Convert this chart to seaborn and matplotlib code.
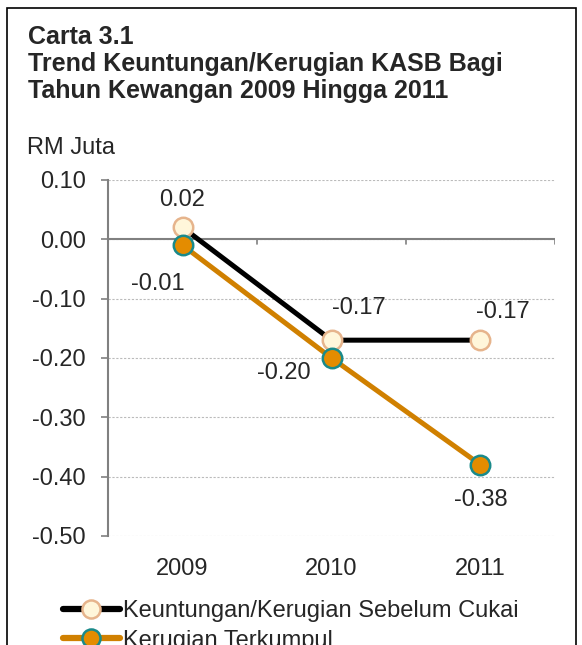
"""
Carta 3.1 - Trend Keuntungan/Kerugian KASB 2009-2011
"""

import pandas as pd
import matplotlib
matplotlib.use("Agg")
import matplotlib.pyplot as plt
from matplotlib.lines import Line2D
from matplotlib.patches import Rectangle
import seaborn as sns

# Data
years = ["2009", "2010", "2011"]
untung_rugi = [0.02, -0.17, -0.17]
rugi_terkumpul = [-0.01, -0.20, -0.38]
series_names = ["Keuntungan/Kerugian Sebelum Cukai", "Kerugian Terkumpul"]
y_ticks = [0.10, 0.00, -0.10, -0.20, -0.30, -0.40, -0.50]

# label offsets in points (dx, dy)
offsets_a = [(0, 20), (20, 23), (16, 20)]
offsets_b = [(-18, -28), (-34, -11), (0, -25)]

FS = 17

df = pd.DataFrame({
    "tahun": years * 2,
    "nilai": untung_rugi + rugi_terkumpul,
    "siri": [series_names[0]] * 3 + [series_names[1]] * 3,
})

sns.set_style("white")
plt.rcParams["font.family"] = ["Liberation Sans", "DejaVu Sans"]

fig = plt.figure(figsize=(5.82, 6.45), dpi=100)
ax = fig.add_axes([0.1856, 0.169, 0.768, 0.552])

styles = {
    series_names[0]: dict(color="black", mfc="#FFF6DA", mec="#E6B48C"),
    series_names[1]: dict(color="#D08000", mfc="#E48C00", mec="#1A8A8A"),
}

for name in series_names:
    st = styles[name]
    sns.lineplot(data=df[df["siri"] == name], x="tahun", y="nilai", ax=ax,
                 color=st["color"], linewidth=3.6, marker="o", markersize=14,
                 markerfacecolor=st["mfc"], markeredgecolor=st["mec"],
                 markeredgewidth=1.8, zorder=3)

# Data labels
for i, v in enumerate(untung_rugi):
    ax.annotate(f"{v:.2f}", (i, v), xytext=offsets_a[i], textcoords="offset points",
                ha="center", va="center", fontsize=FS)
for i, v in enumerate(rugi_terkumpul):
    ax.annotate(f"{v:.2f}", (i, v), xytext=offsets_b[i], textcoords="offset points",
                ha="center", va="center", fontsize=FS)

# Axes styling
ax.set_xlim(-0.5, 2.5)
ax.set_ylim(-0.50, 0.10)
ax.set_yticks(y_ticks)
ax.set_yticklabels([f"{t:.2f}" for t in y_ticks], fontsize=FS)
ax.set_xticks(range(len(years)))
ax.set_xticklabels(years, fontsize=FS)
ax.tick_params(axis="x", length=0, pad=16)
ax.tick_params(axis="y", length=5, width=1.2, color="#808080", pad=11, left=True)
ax.set_xlabel("")
ax.set_ylabel("")

for t in y_ticks:
    ax.axhline(t, color="#BBBBBB", linewidth=0.8, linestyle=(0, (2, 1.5)), zorder=0)
ax.axhline(0, color="#808080", linewidth=1.5, zorder=1)
for b in [0.5, 1.5, 2.5]:
    ax.plot([b, b], [0, -0.008], color="#808080", linewidth=1.2, zorder=1)

for s in ["top", "right", "bottom"]:
    ax.spines[s].set_visible(False)
ax.spines["left"].set_color("#808080")
ax.spines["left"].set_linewidth(1.5)

# Title
fig.text(0.048, 0.961, "Carta 3.1\nTrend Keuntungan/Kerugian KASB Bagi\nTahun Kewangan 2009 Hingga 2011",
         fontsize=18, fontweight="bold", va="top", ha="left", linespacing=1.165)
fig.text(0.046, 0.771, "RM Juta", fontsize=FS, va="center", ha="left")

# Legend
handles = [
    Line2D([], [], color=styles[n]["color"], linewidth=4.5, marker="o", markersize=13,
           markerfacecolor=styles[n]["mfc"], markeredgecolor=styles[n]["mec"],
           markeredgewidth=1.8, solid_capstyle="round")
    for n in series_names
]
fig.legend(handles, series_names, loc="upper left", bbox_to_anchor=(0.108, 0.070),
           frameon=False, fontsize=FS, handlelength=2.4, handletextpad=0.15,
           labelspacing=0.33, borderpad=0, borderaxespad=0)

# Outer frame
fig.patches.append(Rectangle((0.012, -0.1), 0.978, 1.087, transform=fig.transFigure,
                             fill=False, edgecolor="black", linewidth=1.2))

fig.savefig("out.png", dpi=100)
